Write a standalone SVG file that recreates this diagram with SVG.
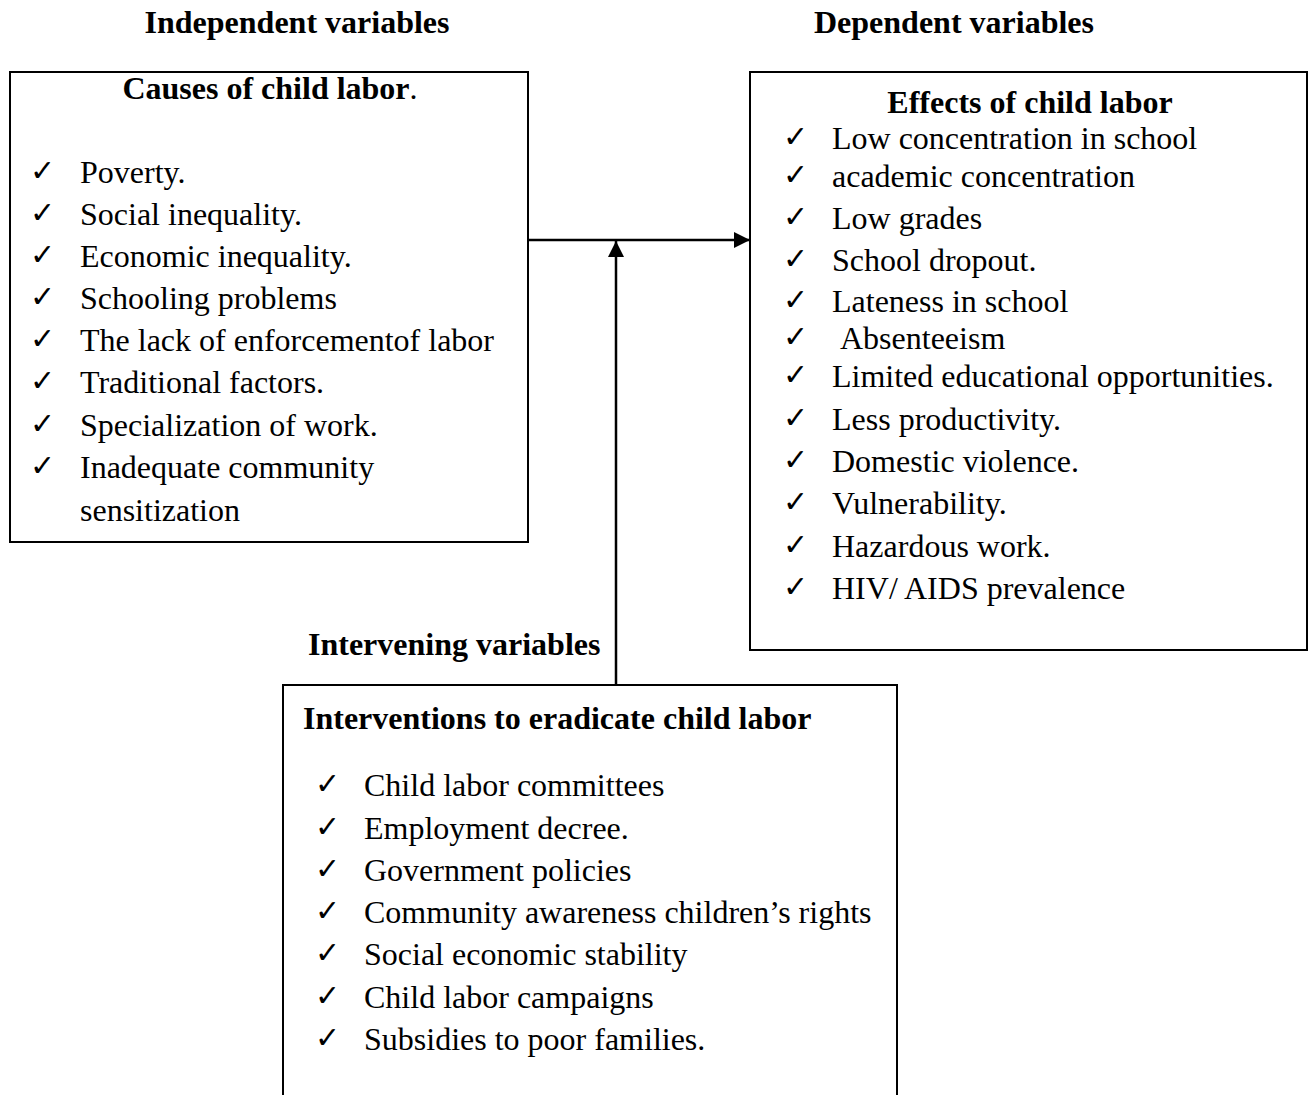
<svg xmlns="http://www.w3.org/2000/svg" width="1308" height="1095" viewBox="0 0 1308 1095">
<style>
text{font-family:"Liberation Serif","Times New Roman",serif;fill:#000}
.h{font-size:32px;font-weight:bold}
.t{font-size:32px}
.b{fill:#fff;stroke:#000;stroke-width:2}
.c{stroke:#000;stroke-width:2.5;fill:none}
.ck{font-family:"DejaVu Sans",sans-serif;font-size:30px;font-weight:bold}
</style>
<defs>
<marker id="ah" viewBox="0 0 10 10" refX="10" refY="5" markerWidth="16" markerHeight="16" markerUnits="userSpaceOnUse" orient="auto"><path d="M0,0 L10,5 L0,10 z" fill="#000"/></marker>
</defs>
<text class="h" x="297" y="33" text-anchor="middle">Independent variables</text>
<text class="h" x="954" y="33" text-anchor="middle">Dependent variables</text>
<g id="causes">
<rect class="b" x="10" y="72" width="518" height="470"/>
<text class="h" x="270" y="99" text-anchor="middle">Causes of child labor<tspan font-weight="normal">.</tspan></text>
<text class="ck" x="30" y="181">✓</text><text class="t" x="80" y="183">Poverty.</text>
<text class="ck" x="30" y="223">✓</text><text class="t" x="80" y="225">Social inequality.</text>
<text class="ck" x="30" y="265">✓</text><text class="t" x="80" y="267">Economic inequality.</text>
<text class="ck" x="30" y="307">✓</text><text class="t" x="80" y="309">Schooling problems</text>
<text class="ck" x="30" y="349">✓</text><text class="t" x="80" y="351">The lack of enforcementof labor</text>
<text class="ck" x="30" y="391">✓</text><text class="t" x="80" y="393">Traditional factors.</text>
<text class="ck" x="30" y="434">✓</text><text class="t" x="80" y="436">Specialization of work.</text>
<text class="ck" x="30" y="476">✓</text><text class="t" x="80" y="478">Inadequate community</text>
<text class="t" x="80" y="521">sensitization</text>
</g>
<g id="effects">
<rect class="b" x="750" y="72" width="557" height="578"/>
<text class="h" x="1030" y="113" text-anchor="middle">Effects of child labor</text>
<text class="ck" x="783" y="147">✓</text><text class="t" x="832" y="149">Low concentration in school</text>
<text class="ck" x="783" y="185">✓</text><text class="t" x="832" y="187">academic concentration</text>
<text class="ck" x="783" y="227">✓</text><text class="t" x="832" y="229">Low grades</text>
<text class="ck" x="783" y="269">✓</text><text class="t" x="832" y="271">School dropout.</text>
<text class="ck" x="783" y="310">✓</text><text class="t" x="832" y="312">Lateness in school</text>
<text class="ck" x="783" y="347">✓</text><text class="t" x="840" y="349">Absenteeism</text>
<text class="ck" x="783" y="385">✓</text><text class="t" x="832" y="387">Limited educational opportunities.</text>
<text class="ck" x="783" y="428">✓</text><text class="t" x="832" y="430">Less productivity.</text>
<text class="ck" x="783" y="470">✓</text><text class="t" x="832" y="472">Domestic violence.</text>
<text class="ck" x="783" y="512">✓</text><text class="t" x="832" y="514">Vulnerability.</text>
<text class="ck" x="783" y="555">✓</text><text class="t" x="832" y="557">Hazardous  work.</text>
<text class="ck" x="783" y="597">✓</text><text class="t" x="832" y="599">HIV/ AIDS prevalence</text>
</g>
<text class="h" x="308" y="655">Intervening variables</text>
<g id="interventions">
<rect class="b" x="283" y="685" width="614" height="420"/>
<text class="h" x="303" y="729">Interventions to eradicate child labor</text>
<text class="ck" x="315" y="794">✓</text><text class="t" x="364" y="796">Child labor committees</text>
<text class="ck" x="315" y="837">✓</text><text class="t" x="364" y="839">Employment decree.</text>
<text class="ck" x="315" y="879">✓</text><text class="t" x="364" y="881">Government policies</text>
<text class="ck" x="315" y="921">✓</text><text class="t" x="364" y="923">Community awareness children’s rights</text>
<text class="ck" x="315" y="963">✓</text><text class="t" x="364" y="965">Social economic stability</text>
<text class="ck" x="315" y="1006">✓</text><text class="t" x="364" y="1008">Child labor campaigns</text>
<text class="ck" x="315" y="1048">✓</text><text class="t" x="364" y="1050">Subsidies to poor families.</text>
</g>
<g id="connectors">
<line class="c" x1="528" y1="240" x2="750" y2="240" marker-end="url(#ah)"/>
<line class="c" x1="616" y1="685" x2="616" y2="241" marker-end="url(#ah)"/>
</g>
</svg>
